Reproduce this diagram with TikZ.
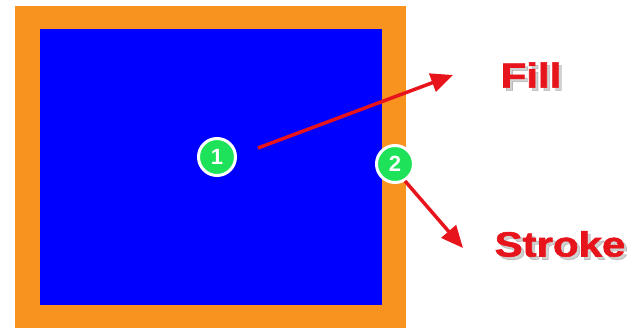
\documentclass[tikz,border=0pt]{standalone}
\usepackage{fontspec}
\setmainfont{Liberation Sans}
\newfontfamily\lblfont[FakeBold=1.6]{Liberation Sans Bold}
\usetikzlibrary{arrows.meta,calc}
\definecolor{orng}{HTML}{F8931F}
\definecolor{blu}{HTML}{0000FF}
\definecolor{grn}{HTML}{1EE35A}
\definecolor{redt}{HTML}{E8141B}
\tikzset{
  badge/.style={circle,fill=grn,draw=white,line width=3pt,minimum size=37pt,inner sep=0pt,
    font=\fontsize{22}{22}\selectfont\bfseries,text=white},
  redarrow/.style={draw=redt,line width=3.5pt,-{Triangle[length=22pt,width=19pt]}},
  lbl/.style={font=\fontsize{35}{35}\lblfont,xscale=1.2,transform shape,inner sep=0pt},
  lblshadow/.style={lbl,text=black,opacity=0.18},
}
\begin{document}
\begin{tikzpicture}[x=1pt,y=-1pt]
\useasboundingbox[fill=white] (0,0) rectangle (633,328);
\fill[orng] (15,6) rectangle (406,328);
\fill[blu] (40,29) rectangle (382,305);
\node[badge] (c1) at (217,157) {1};
\node[badge] (c2) at (395,164) {2};
\coordinate (a1s) at (258,148);
\coordinate (a1e) at (453,75);
\coordinate (a2s) at (405,181);
\coordinate (a2e) at (463,248);
\draw[redarrow] (a1s) -- (a1e);
\draw[redarrow] (a2s) -- (a2e);
\node[lblshadow] (fillsh) at (534,78) {Fill};
\node[lbl,text=redt] (fill) at (531,75) {Fill};
\node[lblshadow] (strokesh) at (563,247) {Stroke};
\node[lbl,text=redt] (stroke) at (560,244) {Stroke};
\end{tikzpicture}
\end{document}
